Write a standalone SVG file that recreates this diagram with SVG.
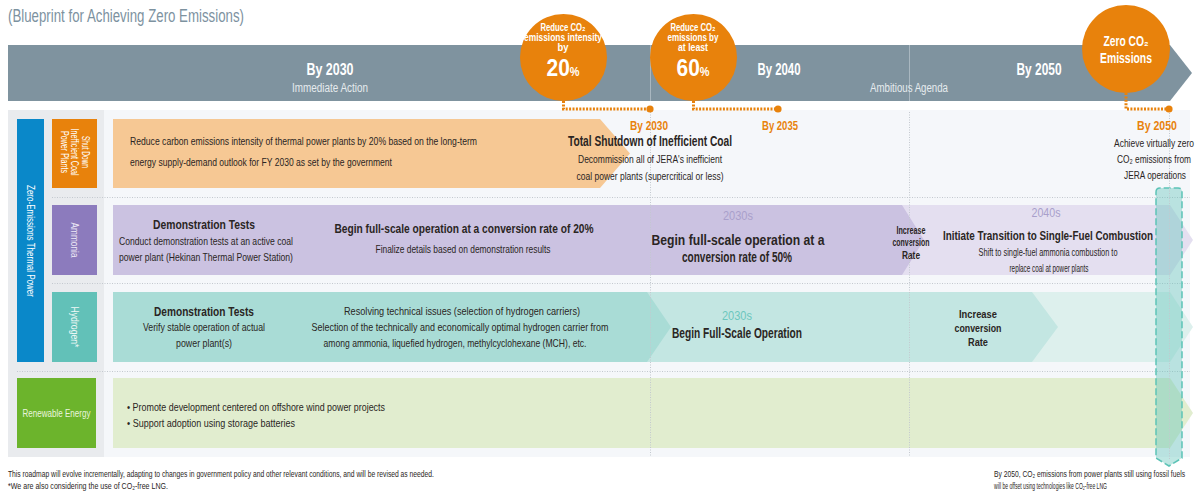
<svg xmlns="http://www.w3.org/2000/svg" width="1201" height="493" viewBox="0 0 1201 493">
<style>
text{font-family:"Liberation Sans Narrow","Liberation Sans",Arial,sans-serif}
.b{font-weight:bold}
.m{text-anchor:middle}
.dk{fill:#2a2523}
.wh{fill:#fff}
.or{fill:#e8820c}
.s10{font-size:11.5px}
.s9{font-size:11px}
.h12{font-size:13px;font-weight:bold}
.ft{font-size:9px}
.sep{stroke:#c3c8cf;stroke-width:1;stroke-dasharray:1 1.5;fill:none}
.dot{stroke:#e8820c;stroke-width:3;stroke-dasharray:2 1.4;fill:none}
</style>
<rect width="1201" height="493" fill="#fff"/>
<text x="8" y="22" font-size="17.5" fill="#7d929f" textLength="236" lengthAdjust="spacingAndGlyphs">(Blueprint for Achieving Zero Emissions)</text>

<g id="timeline">
<polygon points="8,45 1170,45 1192,73 1170,101 8,101" fill="#7f939f"/>
<line x1="650.5" y1="45" x2="650.5" y2="101" stroke="#a9b7c0"/>
<line x1="909.5" y1="45" x2="909.5" y2="101" stroke="#a9b7c0"/>
<text class="b m wh" x="330" y="75" font-size="16" textLength="47" lengthAdjust="spacingAndGlyphs">By 2030</text>
<text class="m" x="330" y="92" font-size="12" fill="#e6ebee" textLength="76" lengthAdjust="spacingAndGlyphs">Immediate Action</text>
<text class="b m wh" x="779" y="75" font-size="16" textLength="43" lengthAdjust="spacingAndGlyphs">By 2040</text>
<text class="m" x="909" y="92" font-size="12" fill="#e6ebee" textLength="78" lengthAdjust="spacingAndGlyphs">Ambitious Agenda</text>
<text class="b m wh" x="1039" y="75" font-size="16" textLength="45" lengthAdjust="spacingAndGlyphs">By 2050</text>
</g>

<g id="target-2030">
<circle cx="563.5" cy="57.5" r="43.5" fill="#e8820c"/>
<text class="b m wh" x="563" y="31" font-size="11.5" textLength="45" lengthAdjust="spacingAndGlyphs">Reduce CO₂</text>
<text class="b m wh" x="563" y="41" font-size="11.5" textLength="78" lengthAdjust="spacingAndGlyphs">emissions intensity</text>
<text class="b m wh" x="563" y="51" font-size="11.5" textLength="11" lengthAdjust="spacingAndGlyphs">by</text>
<text class="b m wh" x="563" y="76" font-size="23" textLength="33" lengthAdjust="spacingAndGlyphs">20<tspan font-size="12">%</tspan></text>
</g>

<g id="target-2035">
<circle cx="693.5" cy="57.5" r="43.5" fill="#e8820c"/>
<text class="b m wh" x="693" y="31" font-size="11.5" textLength="45" lengthAdjust="spacingAndGlyphs">Reduce CO₂</text>
<text class="b m wh" x="693" y="41" font-size="11.5" textLength="51" lengthAdjust="spacingAndGlyphs">emissions by</text>
<text class="b m wh" x="693" y="51" font-size="11.5" textLength="30" lengthAdjust="spacingAndGlyphs">at least</text>
<text class="b m wh" x="693" y="76" font-size="23" textLength="33" lengthAdjust="spacingAndGlyphs">60<tspan font-size="12">%</tspan></text>
</g>

<g id="target-2050">
<circle cx="1126" cy="49" r="44" fill="#e8820c"/>
<text class="b m wh" x="1126" y="46" font-size="14" textLength="45" lengthAdjust="spacingAndGlyphs">Zero CO₂</text>
<text class="b m wh" x="1126" y="63" font-size="14" textLength="52" lengthAdjust="spacingAndGlyphs">Emissions</text>
</g>

<g id="panel">
<rect x="8" y="110" width="96" height="347" fill="#e9ebee"/>
<rect x="104" y="110" width="1086" height="347" fill="#f5f7fa"/>
</g>

<g id="zero-emissions-thermal">
<rect x="17" y="119" width="27" height="243" fill="#0a88c9"/>
<text class="m wh" transform="translate(30.5,241) rotate(90)" x="0" y="4" font-size="11.5" textLength="112" lengthAdjust="spacingAndGlyphs">Zero-Emissions Thermal Power</text>
</g>

<g id="coal-row">
<rect x="52" y="119" width="45" height="69" fill="#e8820c"/>
<g transform="translate(74.5,152) rotate(90)" class="wh" font-size="11">
<text class="m" x="0" y="-7" textLength="32" lengthAdjust="spacingAndGlyphs">Shut Down</text>
<text class="m" x="0" y="3.5" textLength="47" lengthAdjust="spacingAndGlyphs">Inefficient Coal</text>
<text class="m" x="0" y="14" textLength="42" lengthAdjust="spacingAndGlyphs">Power Plants</text>
</g>
<polygon points="113,119 600,119 630,153.5 600,188 113,188" fill="#f6c894"/>
<text class="dk s10" x="130" y="145" textLength="347" lengthAdjust="spacingAndGlyphs">Reduce carbon emissions intensity of thermal power plants by 20% based on the long-term</text>
<text class="dk s10" x="130" y="166" textLength="262" lengthAdjust="spacingAndGlyphs">energy supply-demand outlook for FY 2030 as set by the government</text>
</g>

<g id="ammonia-row">
<rect x="52" y="205" width="45" height="70" fill="#8c7bbd"/>
<text class="m" transform="translate(74.5,240) rotate(90)" x="0" y="4" font-size="11" fill="#ece8f5" textLength="35" lengthAdjust="spacingAndGlyphs">Ammonia</text>
<polygon points="113,205 1170,205 1193,240 1170,275 113,275" fill="#e4dff0"/>
<polygon points="113,205 902,205 924,240 902,275 113,275" fill="#cbc2e1"/>
<text class="dk m h12" x="204" y="229" textLength="102" lengthAdjust="spacingAndGlyphs">Demonstration Tests</text>
<text class="dk m s10" x="206" y="245" textLength="174" lengthAdjust="spacingAndGlyphs">Conduct demonstration tests at an active coal</text>
<text class="dk m s10" x="206" y="261" textLength="174" lengthAdjust="spacingAndGlyphs">power plant (Hekinan Thermal Power Station)</text>
<text class="dk m h12" x="464" y="233" textLength="259" lengthAdjust="spacingAndGlyphs">Begin full-scale operation at a conversion rate of 20%</text>
<text class="dk m s10" x="463" y="253" textLength="175" lengthAdjust="spacingAndGlyphs">Finalize details based on demonstration results</text>
<text class="m" x="738" y="220" font-size="13" fill="#a99fcb" textLength="30" lengthAdjust="spacingAndGlyphs">2030s</text>
<text class="dk m b" x="738" y="245" font-size="14.5" textLength="173" lengthAdjust="spacingAndGlyphs">Begin full-scale operation at a</text>
<text class="dk m b" x="737" y="262" font-size="14.5" textLength="110" lengthAdjust="spacingAndGlyphs">conversion rate of 50%</text>
<text class="dk m b" x="911" y="234" font-size="10.5" textLength="29" lengthAdjust="spacingAndGlyphs">Increase</text>
<text class="dk m b" x="911" y="246" font-size="10.5" textLength="37" lengthAdjust="spacingAndGlyphs">conversion</text>
<text class="dk m b" x="911" y="259" font-size="10.5" textLength="18" lengthAdjust="spacingAndGlyphs">Rate</text>
<text class="m" x="1046" y="217" font-size="13" fill="#a99fcb" textLength="29" lengthAdjust="spacingAndGlyphs">2040s</text>
<text class="dk m b" x="1048" y="240" font-size="13.5" textLength="210" lengthAdjust="spacingAndGlyphs">Initiate Transition to Single-Fuel Combustion</text>
<text class="dk m s9" x="1048" y="256" textLength="139" lengthAdjust="spacingAndGlyphs">Shift to single-fuel ammonia combustion to</text>
<text class="dk m s9" x="1049" y="272" textLength="79" lengthAdjust="spacingAndGlyphs">replace coal at power plants</text>
</g>

<g id="hydrogen-row">
<rect x="52" y="292" width="45" height="70" fill="#62c1b8"/>
<text class="m" transform="translate(74.5,327) rotate(90)" x="0" y="4" font-size="11" fill="#eef8f6" textLength="41" lengthAdjust="spacingAndGlyphs">Hydrogen*</text>
<polygon points="113,292 1170,292 1193,327 1170,362 113,362" fill="#ddf0ed"/>
<polygon points="113,292 1032,292 1058,327 1032,362 113,362" fill="#c3e6e2"/>
<polygon points="113,292 647,292 671,327 647,362 113,362" fill="#a9dcd6"/>
<text class="dk m h12" x="204" y="316" textLength="100" lengthAdjust="spacingAndGlyphs">Demonstration Tests</text>
<text class="dk m s10" x="204" y="331" textLength="122" lengthAdjust="spacingAndGlyphs">Verify stable operation of actual</text>
<text class="dk m s10" x="204" y="347" textLength="56" lengthAdjust="spacingAndGlyphs">power plant(s)</text>
<text class="dk m s9" x="462" y="315" textLength="236" lengthAdjust="spacingAndGlyphs">Resolving technical issues (selection of hydrogen carriers)</text>
<text class="dk m s9" x="460" y="331" textLength="297" lengthAdjust="spacingAndGlyphs">Selection of the technically and economically optimal hydrogen carrier from</text>
<text class="dk m s9" x="455" y="347" textLength="263" lengthAdjust="spacingAndGlyphs">among ammonia, liquefied hydrogen, methylcyclohexane (MCH), etc.</text>
<text class="m" x="737" y="320" font-size="13" fill="#6cc6bd" textLength="30" lengthAdjust="spacingAndGlyphs">2030s</text>
<text class="dk m b" x="737" y="338" font-size="14" textLength="130" lengthAdjust="spacingAndGlyphs">Begin Full-Scale Operation</text>
<text class="dk m b" x="978" y="318" font-size="11.5" textLength="38" lengthAdjust="spacingAndGlyphs">Increase</text>
<text class="dk m b" x="978" y="332" font-size="11.5" textLength="47" lengthAdjust="spacingAndGlyphs">conversion</text>
<text class="dk m b" x="978" y="346" font-size="11.5" textLength="20" lengthAdjust="spacingAndGlyphs">Rate</text>
</g>

<g id="renewable-row">
<rect x="17" y="378" width="79" height="70" fill="#6cb42c"/>
<text class="m" x="56.5" y="417" font-size="11" fill="#eaf4de" textLength="68" lengthAdjust="spacingAndGlyphs">Renewable Energy</text>
<polygon points="113,378 1170,378 1193,413 1170,448 113,448" fill="#e1edcf"/>
<text class="dk s10" x="127" y="411" textLength="258" lengthAdjust="spacingAndGlyphs">•  Promote development centered on offshore wind power projects</text>
<text class="dk s10" x="127" y="427" textLength="168" lengthAdjust="spacingAndGlyphs">•  Support adoption using storage batteries</text>
</g>

<g id="connectors">
<line class="sep" x1="52" y1="197.5" x2="1190" y2="197.5"/>
<line class="sep" x1="52" y1="283.5" x2="1190" y2="283.5"/>
<line class="sep" x1="17" y1="371.5" x2="1190" y2="371.5"/>
<line class="sep" x1="650.5" y1="112" x2="650.5" y2="457"/>
<line class="sep" x1="909.5" y1="112" x2="909.5" y2="457"/>
<path class="dot" d="M563.5,101 V109 H650"/>
<circle cx="650" cy="109" r="3.6" fill="#e8820c"/>
<path class="dot" d="M693.5,101 V109 H778"/>
<circle cx="778" cy="109" r="3.6" fill="#e8820c"/>
<path class="dot" d="M1126,93 V109 H1169"/>
<circle cx="1169" cy="109" r="3.6" fill="#e8820c"/>
</g>

<g id="zero-2050-column">
<path d="M1156,192 Q1156,188 1160,188 H1178 Q1182,188 1182,192 V458 L1169,466 L1156,458 Z" fill="#5fc4b8" fill-opacity="0.4" stroke="#5cc3b6" stroke-width="1.5" stroke-dasharray="7 3"/>
<line class="sep" x1="1169.5" y1="113" x2="1169.5" y2="460"/>
</g>

<g id="milestones">
<text class="b m or" x="649" y="130" font-size="13" textLength="38" lengthAdjust="spacingAndGlyphs">By 2030</text>
<text class="b m or" x="780" y="130" font-size="13" textLength="36" lengthAdjust="spacingAndGlyphs">By 2035</text>
<text class="b m or" x="1157" y="130" font-size="13" textLength="40" lengthAdjust="spacingAndGlyphs">By 2050</text>
<text class="dk m b" x="650" y="146" font-size="14" textLength="164" lengthAdjust="spacingAndGlyphs">Total Shutdown of Inefficient Coal</text>
<text class="dk m s10" x="650" y="163" textLength="144" lengthAdjust="spacingAndGlyphs">Decommission all of JERA's inefficient</text>
<text class="dk m s10" x="650" y="180" textLength="147" lengthAdjust="spacingAndGlyphs">coal power plants (supercritical or less)</text>
<text class="dk m s10" x="1154" y="147" textLength="80" lengthAdjust="spacingAndGlyphs">Achieve virtually zero</text>
<text class="dk m s10" x="1154" y="163" textLength="74" lengthAdjust="spacingAndGlyphs">CO₂ emissions from</text>
<text class="dk m s10" x="1155" y="179" textLength="62" lengthAdjust="spacingAndGlyphs">JERA operations</text>
</g>

<g id="footer">
<text class="dk ft" x="8" y="477" textLength="426" lengthAdjust="spacingAndGlyphs">This roadmap will evolve incrementally, adapting to changes in government policy and other relevant conditions, and will be revised as needed.</text>
<text class="dk ft" x="8" y="489" textLength="160" lengthAdjust="spacingAndGlyphs">*We are also considering the use of CO₂-free LNG.</text>
<text class="dk ft" x="994" y="477" textLength="191" lengthAdjust="spacingAndGlyphs">By 2050, CO₂ emissions from power plants still using fossil fuels</text>
<text class="dk ft" x="994" y="489" textLength="113" lengthAdjust="spacingAndGlyphs">will be offset using technologies like CO₂-free LNG</text>
</g>
</svg>
